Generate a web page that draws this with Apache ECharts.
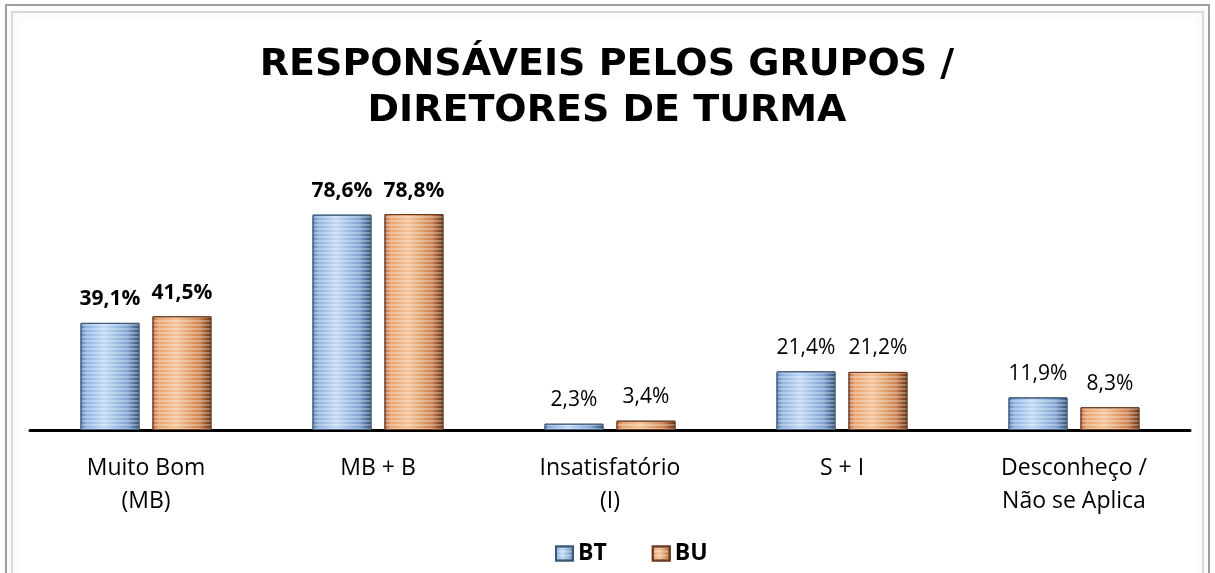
<!DOCTYPE html>
<html>
<head>
<meta charset="utf-8">
<script src="https://cdn.jsdelivr.net/npm/echarts@6/dist/echarts.min.js"></script>
<style>html,body{margin:0;padding:0;background:#fff;}#c{width:1215px;height:573px;}</style>
</head>
<body>
<div id="c"></div>
<script>
const titleText = 'RESPONSÁVEIS PELOS GRUPOS /\nDIRETORES DE TURMA';
const categories = ['Muito Bom\n(MB)', 'MB + B', 'Insatisfatório\n(I)', 'S + I', 'Desconheço /\nNão se Aplica'];
const seriesNames = ['BT', 'BU'];
const btValues = [39.1, 78.6, 2.3, 21.4, 11.9];
const buValues = [41.5, 78.8, 3.4, 21.2, 8.3];
const boldLabelCategories = [0, 1];

const chart = echarts.init(document.getElementById('c'));
const fmt = p => p.value.toFixed(1).replace('.', ',') + '%';
const blueGrad = new echarts.graphic.LinearGradient(0, 0, 1, 0, [
  {offset: 0, color: '#5a7eb0'},
  {offset: 0.1, color: '#8fb2e0'},
  {offset: 0.4, color: '#c2daf5'},
  {offset: 0.8, color: '#7fa3d2'},
  {offset: 0.92, color: '#4f709c'},
  {offset: 1, color: '#33486a'}
]);
const orangeGrad = new echarts.graphic.LinearGradient(0, 0, 1, 0, [
  {offset: 0, color: '#b8693d'},
  {offset: 0.1, color: '#e8a270'},
  {offset: 0.4, color: '#f5c597'},
  {offset: 0.8, color: '#cf8250'},
  {offset: 0.92, color: '#8e4f2a'},
  {offset: 1, color: '#5e3118'}
]);
const decal = {symbol: 'rect', dashArrayX: [1, 0], dashArrayY: [2, 2], color: 'rgba(255,255,255,0.3)', symbolSize: 1};
function mk(vals) {
  return vals.map((v, i) => ({
    value: v,
    label: {fontWeight: boldLabelCategories.includes(i) ? 'bold' : 'normal'}
  }));
}
const labelCfg = {show: true, position: 'top', distance: 13, formatter: fmt, fontFamily: 'Open Sans', fontSize: 21, color: '#000'};

chart.setOption({
  animation: false,
  title: {
    text: titleText, left: 602, textAlign: 'center', top: 37,
    textStyle: {fontFamily: 'DejaVu Sans', fontWeight: 'bold', fontSize: 38, lineHeight: 46, color: '#000'}
  },
  graphic: [
    {type: 'rect', shape: {x: 6, y: 5, width: 1203, height: 620}, style: {fill: 'none', stroke: '#a0a0a0', lineWidth: 2}, silent: true},
    {type: 'rect', shape: {x: 12, y: 12, width: 1191, height: 610}, style: {fill: 'none', stroke: '#d8d8d8', lineWidth: 2, shadowBlur: 10, shadowColor: 'rgba(0,0,0,0.12)'}, silent: true}
  ],
  legend: {
    data: seriesNames, bottom: 3, left: 550, itemWidth: 17, itemHeight: 14, itemGap: 45, icon: 'rect',
    textStyle: {fontFamily: 'Open Sans', fontWeight: 'bold', fontSize: 23, color: '#000'}
  },
  grid: {left: 30, right: 25, top: 156, bottom: 143},
  xAxis: {
    type: 'category', data: categories,
    axisLine: {lineStyle: {color: '#000', width: 3}},
    axisTick: {show: false},
    axisLabel: {fontFamily: 'Open Sans', fontSize: 23, lineHeight: 33, color: '#000', margin: 22, interval: 0}
  },
  yAxis: {type: 'value', min: 0, max: 100, show: false, splitLine: {show: false}},
  series: [
    {name: 'BT', type: 'bar', data: mk(btValues), barWidth: 59, barGap: '22%',
     itemStyle: {color: blueGrad, borderColor: '#3d5878', borderWidth: 1, decal: decal}, label: labelCfg},
    {name: 'BU', type: 'bar', data: mk(buValues), barWidth: 59,
     itemStyle: {color: orangeGrad, borderColor: '#6a3a1e', borderWidth: 1, decal: decal}, label: labelCfg}
  ]
});
</script>
</body>
</html>
